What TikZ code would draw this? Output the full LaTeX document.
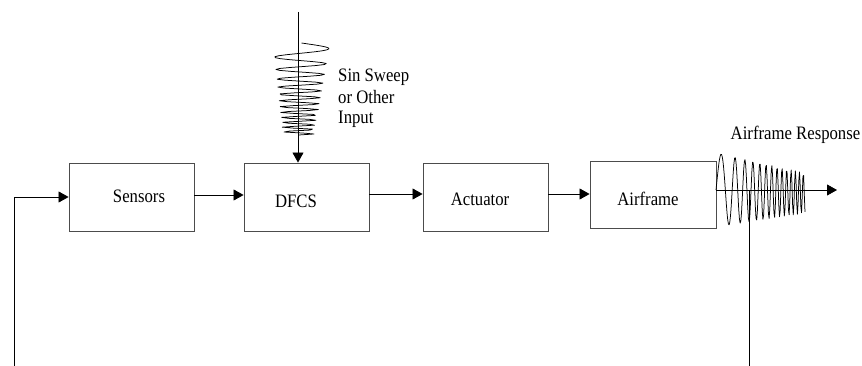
\documentclass[tikz,border=0pt]{standalone}
\usepackage{fontspec}
\setmainfont{Liberation Serif}[FakeStretch=0.88]
\usetikzlibrary{arrows.meta}
\tikzset{
  blk/.style={draw=black!70, line width=0.9pt, minimum width=125pt, minimum height=68pt, inner sep=0pt},
  lbl/.style={inner sep=0pt, font=\fontsize{19}{21}\selectfont},
  arr/.style={line width=0.8pt, -{Triangle[length=10pt,width=11pt]}},
  ln/.style={line width=0.8pt},
  wave/.style={line width=0.75pt, line join=round}
}
\begin{document}
\begin{tikzpicture}[x=1pt,y=-1pt]
\useasboundingbox (0,0) rectangle (862,366);
% boxes
\node[blk] (sens) at (131.5,197) {};
\node[blk] (dfcs) at (306.5,197) {};
\node[blk] (act)  at (485.5,197) {};
\node[blk, minimum width=126pt, minimum height=67pt] (air) at (653,194.5) {};
% labels
\node[lbl] (sensT) at (139,196) {Sensors};
\node[lbl] (dfcsT) at (296,201.5) {DFCS};
\node[lbl] (actT)  at (480,199) {Actuator};
\node[lbl] (airT)  at (648,199) {Airframe};
\node[lbl, anchor=mid west] (in1) at (338,79) {Sin Sweep};
\node[lbl, anchor=mid west] (in2) at (338,101) {or Other};
\node[lbl, anchor=mid west] (in3) at (338,121) {Input};
\node[lbl, anchor=mid] (resp) at (795.5,137) {Airframe Response};
% coordinates
\coordinate (intop) at (298,12);
\coordinate (fbbot) at (14,366);
\coordinate (outend) at (837,190);
\coordinate (outbot) at (749,366);
% connectors
\draw[arr] (fbbot) |- (sens.west);
\draw[arr] ([yshift=2pt]sens.east) -- ([yshift=2pt]dfcs.west);
\draw[arr] ([yshift=3pt]dfcs.east) -- ([yshift=3pt]act.west);
\draw[arr] ([yshift=3pt]act.east) -- ([yshift=3pt]act.east -| air.west);
\draw[arr] (intop) -- (intop |- dfcs.north);
\draw[arr] ([yshift=4.5pt]air.east) -- (outend);
\draw[ln] (outbot) -- (outbot |- outend);
% input sine sweep
\draw[wave] plot[domain=0:1, samples=95, variable=\t]
  ({301.5 - 3*\t + (28.5-13*\t)*sin(deg(2*pi*(3.5*\t + 9*\t*\t)))}, {43 + 92*\t});
% airframe response
\draw[wave] plot[domain=0:1, samples=130, variable=\t]
  ({716 + 89*\t}, {190 + 3*\t - (37-17*\t)*sin(deg(2*pi*(3.7*\t + 10*\t*\t)))});
\end{tikzpicture}
\end{document}
